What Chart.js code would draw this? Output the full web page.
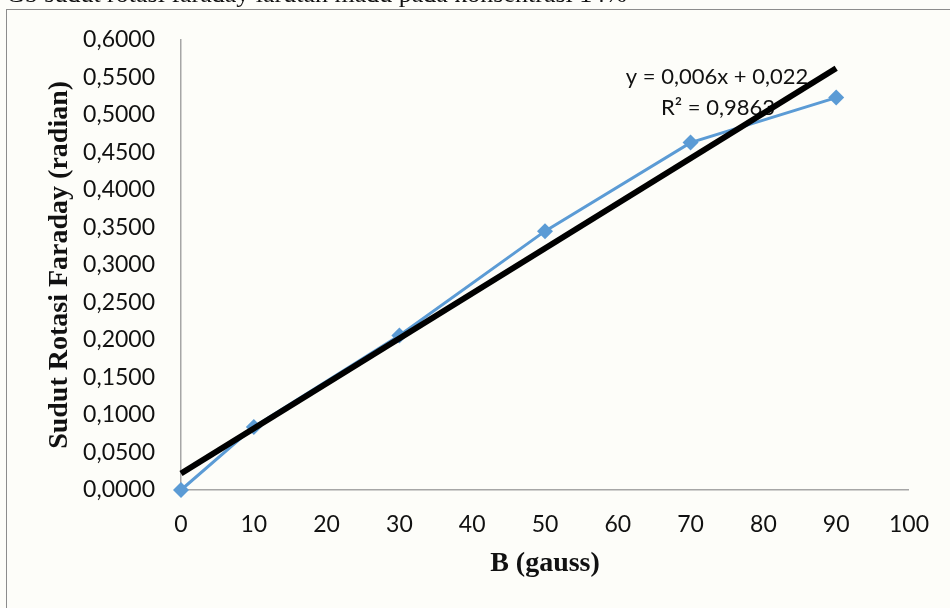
<!DOCTYPE html>
<html>
<head>
<meta charset="utf-8">
<title>Sudut Rotasi Faraday</title>
<script src="https://cdn.jsdelivr.net/npm/chart.js@4/dist/chart.umd.min.js"></script>
<style>
  html, body { margin: 0; padding: 0; background: #fdfdf9; }
  #wrap { width: 950px; height: 608px; position: relative; }
</style>
</head>
<body>
<div id="wrap"><canvas id="c" width="950" height="608"></canvas></div>
<script>
// Measured rotation angle (radian) against magnetic field B (gauss)
const bGauss = [0, 10, 30, 50, 70, 90];
const rotasi = [0.0000, 0.0840, 0.2060, 0.3450, 0.4630, 0.5230];

// Linear trendline as given by its equation label
const trendSlope = 0.006;
const trendIntercept = 0.022;
const trendRange = [0, 90];
const trendLabel = ['y = 0,006x + 0,022', 'R\u00B2 = 0,9863'];

// Axis ranges and tick steps
const xRange = [0, 100];
const xStep = 10;
const yRange = [0, 0.6];
const yStep = 0.05;

const caption = 'Gb sudut rotasi faraday larutan madu pada konsentrasi 14%';

const points = bGauss.map((b, i) => ({ x: b, y: rotasi[i] }));
const trendPoints = trendRange.map(x => ({ x: x, y: trendSlope * x + trendIntercept }));

const backdrop = {
  id: 'backdrop',
  beforeDraw(chart) {
    const ctx = chart.ctx;
    ctx.save();
    ctx.fillStyle = '#fdfdf9';
    ctx.fillRect(0, 0, chart.width, chart.height);
    // frame of the figure
    ctx.strokeStyle = '#8c8c8c';
    ctx.lineWidth = 1;
    ctx.strokeRect(6.5, 9.5, chart.width + 20, chart.height + 20);
    // caption above the frame (mostly cut off by the page top)
    ctx.fillStyle = '#111';
    ctx.font = '26px "Liberation Serif", "Times New Roman", serif';
    ctx.textBaseline = 'alphabetic';
    ctx.textAlign = 'left';
    ctx.fillText(caption, 6, 2);
    ctx.restore();
  },
  beforeDatasetsDraw(chart) {
    const ctx = chart.ctx;
    ctx.save();
    ctx.fillStyle = '#111';
    ctx.font = '22px Lato, "Open Sans", sans-serif';
    ctx.textAlign = 'center';
    ctx.textBaseline = 'middle';
    ctx.fillText(trendLabel[0], 717, 77);
    ctx.fillText(trendLabel[1], 718, 108);
    ctx.restore();
  }
};

new Chart(document.getElementById('c'), {
  type: 'scatter',
  data: {
    datasets: [
      {
        label: 'Linear',
        data: trendPoints,
        showLine: true,
        borderColor: '#000000',
        borderWidth: 6,
        pointRadius: 0,
        clip: false,
        fill: false
      },
      {
        label: 'Sudut rotasi',
        data: points,
        showLine: true,
        borderColor: '#5b9bd5',
        backgroundColor: '#5b9bd5',
        borderWidth: 3,
        pointStyle: 'rectRot',
        pointRadius: 8,
        pointBorderWidth: 0,
        clip: false,
        fill: false
      }
    ]
  },
  options: {
    responsive: false,
    animation: false,
    layout: { padding: { top: 38, right: 39, left: 0, bottom: 0 } },
    plugins: {
      legend: { display: false },
      tooltip: { enabled: false }
    },
    scales: {
      x: {
        type: 'linear',
        min: xRange[0],
        max: xRange[1],
        afterFit(scale) { scale.height = 118; },
        grid: { display: false, drawTicks: false, tickLength: 0 },
        border: { display: true, color: '#a6a6a6', width: 1.5 },
        ticks: {
          stepSize: xStep,
          padding: 21,
          color: '#111',
          font: { family: 'Lato, "Open Sans", sans-serif', size: 23 },
          maxRotation: 0,
          callback: v => String(v)
        },
        title: {
          display: true,
          text: 'B (gauss)',
          color: '#111',
          padding: { top: 0, bottom: 27 },
          font: { family: '"Liberation Serif", "Times New Roman", serif', size: 28, weight: 'bold' }
        }
      },
      y: {
        type: 'linear',
        min: yRange[0],
        max: yRange[1],
        afterFit(scale) { scale.width = 181; },
        grid: { display: false, drawTicks: false, tickLength: 0 },
        border: { display: true, color: '#a6a6a6', width: 1.5 },
        ticks: {
          stepSize: yStep,
          padding: 26,
          color: '#111',
          font: { family: 'Lato, "Open Sans", sans-serif', size: 23 },
          callback: v => Number(v).toFixed(4).replace('.', ',')
        },
        title: {
          display: true,
          text: 'Sudut Rotasi Faraday (radian)',
          color: '#111',
          padding: { top: 43, bottom: 0 },
          font: { family: '"Liberation Serif", "Times New Roman", serif', size: 28, weight: 'bold' }
        }
      }
    }
  },
  plugins: [backdrop]
});
</script>
</body>
</html>
